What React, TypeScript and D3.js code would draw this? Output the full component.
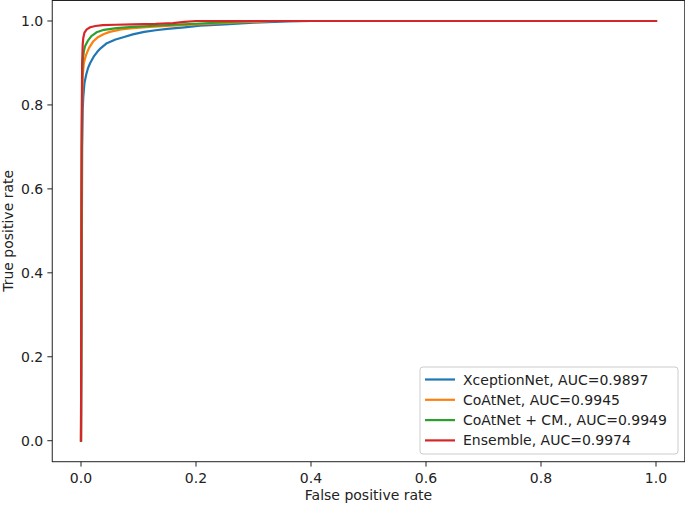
import React from "react";
import * as d3 from "d3";

const seriesNames = [
  "XceptionNet, AUC=0.9897",
  "CoAtNet, AUC=0.9945",
  "CoAtNet + CM., AUC=0.9949",
  "Ensemble, AUC=0.9974",
];
const colors = ["#1f77b4", "#ff7f0e", "#2ca02c", "#d62728"];

const xception: [number, number][] = [
  [0, 0], [0.001, 0.3], [0.002, 0.7], [0.003, 0.79], [0.004, 0.82], [0.006, 0.852],
  [0.009, 0.872], [0.012, 0.887], [0.016, 0.9], [0.022, 0.915], [0.028, 0.926],
  [0.034, 0.935], [0.045, 0.947], [0.06, 0.956], [0.075, 0.962], [0.09, 0.968],
  [0.11, 0.974], [0.13, 0.978], [0.15, 0.981], [0.18, 0.985], [0.207, 0.989],
  [0.25, 0.992], [0.3, 0.996], [0.36, 0.999], [0.4, 1.0], [1, 1],
];
const coatnet: [number, number][] = [
  [0, 0], [0.001, 0.5], [0.002, 0.82], [0.003, 0.87], [0.005, 0.9], [0.009, 0.92],
  [0.014, 0.936], [0.021, 0.951], [0.03, 0.962], [0.04, 0.969], [0.05, 0.974],
  [0.07, 0.98], [0.09, 0.983], [0.12, 0.986], [0.15, 0.988], [0.2, 0.992],
  [0.28, 0.997], [0.34, 1.0], [1, 1],
];
const coatnetCm: [number, number][] = [
  [0, 0], [0.001, 0.6], [0.002, 0.86], [0.003, 0.905], [0.005, 0.928], [0.007, 0.94],
  [0.012, 0.953], [0.018, 0.964], [0.027, 0.973], [0.04, 0.979], [0.062, 0.983],
  [0.09, 0.986], [0.12, 0.988], [0.16, 0.991], [0.207, 0.994], [0.25, 0.997],
  [0.3, 1.0], [1, 1],
];
const ensemble: [number, number][] = [
  [0, 0], [0.001, 0.7], [0.002, 0.9], [0.003, 0.945], [0.004, 0.96], [0.006, 0.972],
  [0.01, 0.98], [0.016, 0.985], [0.025, 0.988], [0.038, 0.99], [0.06, 0.991],
  [0.09, 0.992], [0.13, 0.993], [0.16, 0.995], [0.18, 0.998], [0.2, 1.0], [1, 1],
];
const allSeries = [xception, coatnet, coatnetCm, ensemble];

const xTicks = [0, 0.2, 0.4, 0.6, 0.8, 1.0];
const yTicks = [0, 0.2, 0.4, 0.6, 0.8, 1.0];

export default function App() {
  const W = 685, H = 505;
  const x = d3.scaleLinear().domain([-0.05, 1.05]).range([52.25, 684.75]);
  const y = d3.scaleLinear().domain([-0.05, 1.05]).range([461.7, 0]);
  const line = d3.line<[number, number]>().x((d) => x(d[0])).y((d) => y(d[1]));
  const font = "'DejaVu Sans', sans-serif";
  const fs = 14;
  const lx = 420, ly = 367, lw = 258, lh = 87;
  return (
    <svg width={W} height={H} style={{ position: "absolute", left: 0, top: 0, background: "#fff" }} fontFamily={font}>
      <rect x={0} y={0} width={W} height={H} fill="#fff" />
      <defs>
        <clipPath id="plot">
          <rect x={x(-0.05)} y={y(1.05)} width={x(1.05) - x(-0.05)} height={y(-0.05) - y(1.05)} />
        </clipPath>
      </defs>
      <g clipPath="url(#plot)">
        {allSeries.map((s, i) => (
          <path key={i} d={line(s) || ""} fill="none" stroke={colors[i]} strokeWidth={2.2} strokeLinejoin="round" strokeLinecap="square" />
        ))}
      </g>
      <rect x={x(-0.05)} y={y(1.05) + 0.5} width={x(1.05) - x(-0.05)} height={y(-0.05) - y(1.05) - 0.5} fill="none" stroke="#222" strokeWidth={1} />
      {xTicks.map((t) => (
        <g key={"x" + t}>
          <line x1={x(t)} x2={x(t)} y1={y(-0.05)} y2={y(-0.05) + 4.9} stroke="#222" />
          <text x={x(t)} y={y(-0.05) + 21} textAnchor="middle" fontSize={fs} fill="#222">{t.toFixed(1)}</text>
        </g>
      ))}
      {yTicks.map((t) => (
        <g key={"y" + t}>
          <line x1={x(-0.05) - 4.9} x2={x(-0.05)} y1={y(t)} y2={y(t)} stroke="#222" />
          <text x={x(-0.05) - 9} y={y(t) + 5} textAnchor="end" fontSize={fs} fill="#222">{t.toFixed(1)}</text>
        </g>
      ))}
      <text x={(x(-0.05) + x(1.05)) / 2} y={499.5} textAnchor="middle" fontSize={fs} fill="#222">False positive rate</text>
      <text transform={`translate(13, ${(y(-0.05) + y(1.05)) / 2}) rotate(-90)`} textAnchor="middle" fontSize={fs} fill="#222">True positive rate</text>
      <rect x={lx} y={ly} width={lw} height={lh} rx={3} fill="#fff" fillOpacity={0.8} stroke="#ccc" />
      {seriesNames.map((n, i) => (
        <g key={n}>
          <line x1={lx + 5} x2={lx + 35} y1={ly + 12.5 + i * 20.3} y2={ly + 12.5 + i * 20.3} stroke={colors[i]} strokeWidth={2.2} />
          <text x={lx + 43} y={ly + 17.5 + i * 20.3} fontSize={fs} fill="#222">{n}</text>
        </g>
      ))}
    </svg>
  );
}
